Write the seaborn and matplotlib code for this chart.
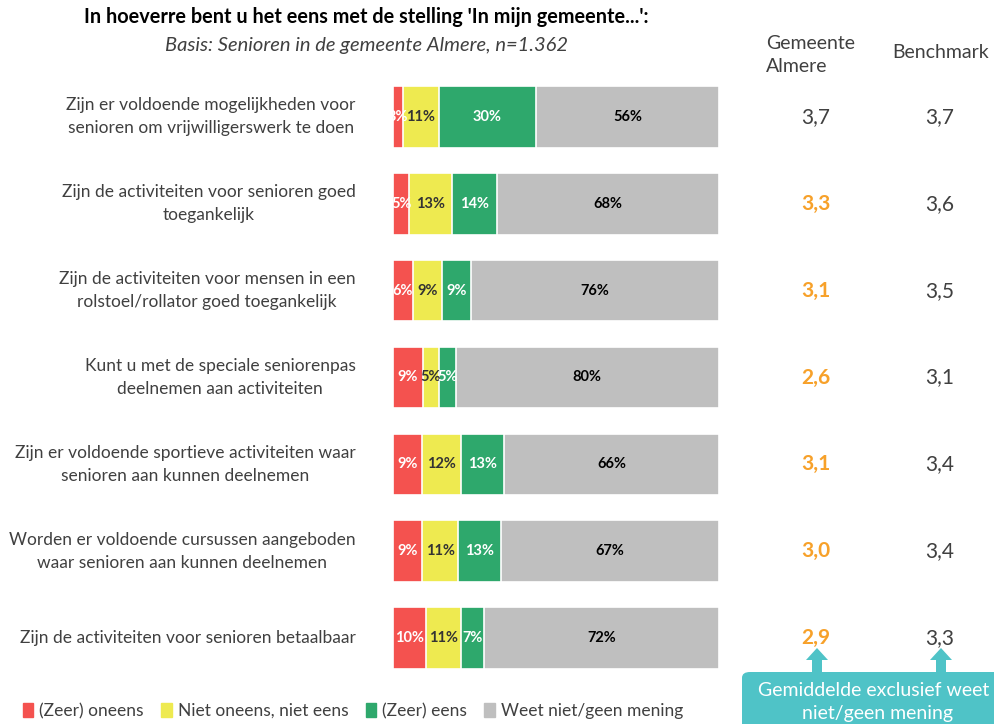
import numpy as np
import pandas as pd
import matplotlib
matplotlib.use("Agg")
import matplotlib.pyplot as plt
from matplotlib.patches import FancyBboxPatch, Polygon
import seaborn as sns

# Data
stellingen = [
    "Zijn er voldoende mogelijkheden voor\nsenioren om vrijwilligerswerk te doen",
    "Zijn de activiteiten voor senioren goed\ntoegankelijk",
    "Zijn de activiteiten voor mensen in een\nrolstoel/rollator goed toegankelijk",
    "Kunt u met de speciale seniorenpas\ndeelnemen aan activiteiten",
    "Zijn er voldoende sportieve activiteiten waar\nsenioren aan kunnen deelnemen",
    "Worden er voldoende cursussen aangeboden\nwaar senioren aan kunnen deelnemen",
    "Zijn de activiteiten voor senioren betaalbaar",
]
antwoorden = ["(Zeer) oneens", "Niet oneens, niet eens", "(Zeer) eens", "Weet niet/geen mening"]
oneens = [3, 5, 6, 9, 9, 9, 10]
neutraal = [11, 13, 9, 5, 12, 11, 11]
eens = [30, 14, 9, 5, 13, 13, 7]
weet_niet = [56, 68, 76, 80, 66, 67, 72]
gem_almere = ["3,7", "3,3", "3,1", "2,6", "3,1", "3,0", "2,9"]
almere_lager = [False, True, True, True, True, True, True]
benchmark = ["3,7", "3,6", "3,5", "3,1", "3,4", "3,4", "3,3"]

kleuren = ["#F4524F", "#EEEA50", "#2EA86C", "#BFBFBF"]
tekstkleur = ["white", "#333333", "white", "black"]
oranje = "#F7A12A"
grijs = "#404040"
teal = "#4FC3C7"

sns.set_theme(style="white")
plt.rcParams["font.family"] = ["Lato", "DejaVu Sans"]

df = pd.DataFrame({"stelling": stellingen})
waarden = np.array([oneens, neutraal, eens, weet_niet], dtype=float)
totaal = waarden.sum(axis=0)
cum = np.cumsum(waarden, axis=0) / totaal * 100

fig = plt.figure(figsize=(9.95, 7.24), dpi=100)
ax = fig.add_axes([0.395, 0.0587, 0.3276, 0.8398])

# gestapelde balken: cumulatief tekenen, van groot naar klein
for i in range(3, -1, -1):
    df["cum"] = cum[i]
    sns.barplot(data=df, x="cum", y="stelling", orient="h", color=kleuren[i],
                saturation=1, width=0.71, edgecolor="white", linewidth=1.2, ax=ax)

# percentages in de segmenten
for i in range(4):
    start = cum[i - 1] if i > 0 else np.zeros(len(stellingen))
    for r in range(len(stellingen)):
        mid = (start[r] + cum[i][r]) / 2
        ax.text(mid, r, f"{int(waarden[i][r])}%", ha="center", va="center",
                color=tekstkleur[i], fontsize=10.5, fontweight="bold")

ax.set_xlim(0, 100)
ax.set_ylim(6.5, -0.5)
ax.set_xlabel("")
ax.set_ylabel("")
ax.set_xticks([])
sns.despine(ax=ax, left=True, bottom=True)
ax.tick_params(axis="y", length=0, pad=27)
for lbl in ax.get_yticklabels():
    lbl.set_multialignment("center")
    lbl.set_verticalalignment("center")
    lbl.set_fontsize(12.5)
    lbl.set_color(grijs)
    lbl.set_linespacing(1.55)

# kolommen rechts
tr = ax.get_yaxis_transform()
for r in range(len(stellingen)):
    if almere_lager[r]:
        ax.text(1.296, r, gem_almere[r], transform=tr, ha="center", va="center",
                fontsize=15, color=oranje, fontweight="bold")
    else:
        ax.text(1.296, r, gem_almere[r], transform=tr, ha="center", va="center",
                fontsize=15, color=grijs)
    ax.text(1.678, r, benchmark[r], transform=tr, ha="center", va="center",
            fontsize=15, color=grijs)

fig.text(766 / 995, 1 - 55 / 724, "Gemeente\nAlmere", ha="left", va="center",
         fontsize=14, color=grijs, linespacing=1.4)
fig.text(941 / 995, 1 - 53 / 724, "Benchmark", ha="center", va="center",
         fontsize=14, color=grijs)

# titel
fig.text(366 / 995, 1 - 17 / 724, "In hoeverre bent u het eens met de stelling 'In mijn gemeente...':",
         ha="center", va="center", fontsize=14.3, fontweight="bold", color="black")
fig.text(367 / 995, 1 - 45 / 724, "Basis: Senioren in de gemeente Almere, n=1.362",
         ha="center", va="center", fontsize=14.5, style="italic", color=grijs)

# legenda
handles = [plt.Rectangle((0, 0), 1, 1, color=k) for k in kleuren]
leg = fig.legend(handles, antwoorden, loc="center left", bbox_to_anchor=(0.023, 1 - 711 / 724),
                 ncol=4, frameon=False, fontsize=12.5, handlelength=0.6, handleheight=0.9,
                 handletextpad=0.35, columnspacing=1.0, borderpad=0, borderaxespad=0)
for t in leg.get_texts():
    t.set_color(grijs)

# toelichting met pijlen
box = FancyBboxPatch((742 / 995, -0.05), 0.3, (1 - 672 / 724) + 0.05,
                     boxstyle="round,pad=0,rounding_size=0.008", transform=fig.transFigure,
                     facecolor=teal, edgecolor="none", clip_on=False)
fig.add_artist(box)
for xc in [817, 941]:
    pts = [(xc - 5, 672), (xc - 5, 660), (xc - 11, 660), (xc, 648), (xc + 11, 660),
           (xc + 5, 660), (xc + 5, 672)]
    poly = Polygon([(x / 995, 1 - y / 724) for x, y in pts], closed=True,
                   transform=fig.transFigure, facecolor=teal, edgecolor="none")
    fig.add_artist(poly)
fig.text(758 / 995, 1 - 690 / 724, "Gemiddelde exclusief weet", ha="left", va="center",
         fontsize=14, color="white")
fig.text(878 / 995, 1 - 713 / 724, "niet/geen mening", ha="center", va="center",
         fontsize=14, color="white")

fig.savefig("out.png", dpi=100)
